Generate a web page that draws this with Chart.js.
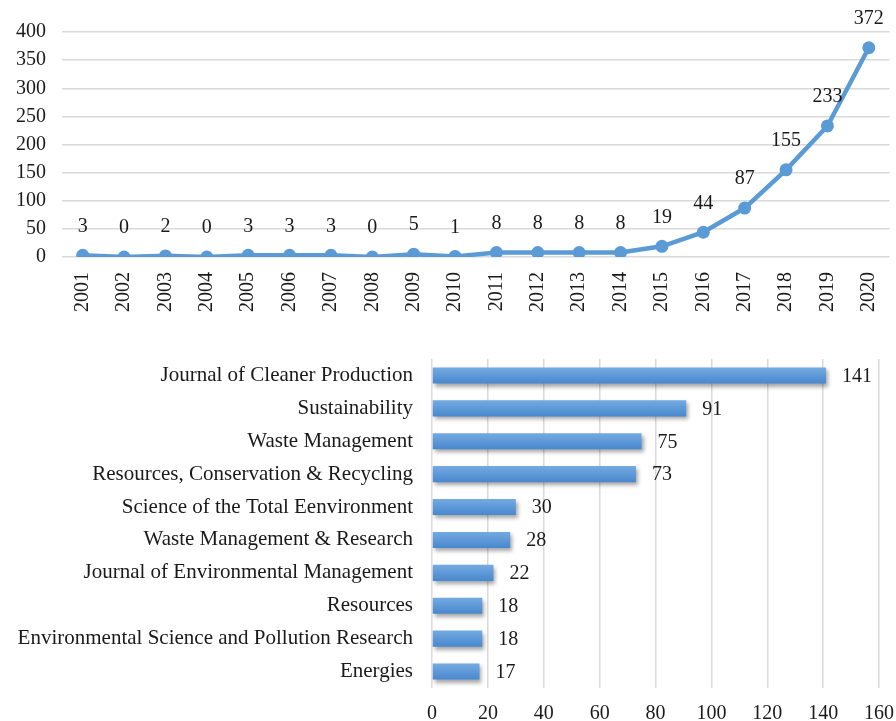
<!DOCTYPE html>
<html>
<head>
<meta charset="utf-8">
<script src="https://cdn.jsdelivr.net/npm/chart.js@4.4.0/dist/chart.umd.min.js"></script>
<style>
  html, body { margin: 0; padding: 0; background: #fff; }
  #wrap { position: relative; width: 896px; height: 721px; }
  .box { position: absolute; left: 0; width: 896px; }
  #top { top: 0; height: 320px; }
  #bottom { top: 340px; height: 381px; }
</style>
</head>
<body>
<div id="wrap">
  <div class="box" id="top"><canvas id="lineChart"></canvas></div>
  <div class="box" id="bottom"><canvas id="barChart"></canvas></div>
</div>
<script>
const years = ["2001", "2002", "2003", "2004", "2005", "2006", "2007", "2008", "2009", "2010",
               "2011", "2012", "2013", "2014", "2015", "2016", "2017", "2018", "2019", "2020"];
const papers = [3, 0, 2, 0, 3, 3, 3, 0, 5, 1, 8, 8, 8, 8, 19, 44, 87, 155, 233, 372];

const journals = [
    "Journal of Cleaner Production",
    "Sustainability",
    "Waste Management",
    "Resources, Conservation & Recycling",
    "Science of the Total Eenvironment",
    "Waste Management & Research",
    "Journal of Environmental Management",
    "Resources",
    "Environmental Science and Pollution Research",
    "Energies"
];
const journalCounts = [141, 91, 75, 73, 30, 28, 22, 18, 18, 17];

const FONT = '"Liberation Serif", "Times New Roman", serif';
const textColor = '#1a1a1a';
const gridColor = '#d9d9d9';
const blue = '#5b9bd5';

Chart.defaults.font.family = FONT;
Chart.defaults.font.size = 20;
Chart.defaults.color = textColor;

// numbers next to the points / bars
const valueLabels = {
    id: 'valueLabels',
    afterDatasetsDraw(chart, args, opts) {
        const ctx = chart.ctx;
        const meta = chart.getDatasetMeta(0);
        const values = chart.data.datasets[0].data;
        ctx.save();
        ctx.font = '20px ' + FONT;
        ctx.fillStyle = textColor;
        ctx.textBaseline = 'middle';
        meta.data.forEach((el, i) => {
            if (opts.horizontal) {
                ctx.textAlign = 'left';
                ctx.fillText(values[i], el.x + opts.gap, el.y + 1);
            } else {
                ctx.textAlign = 'center';
                ctx.fillText(values[i], el.x, el.y - opts.gap);
            }
        });
        ctx.restore();
    }
};

// soft drop shadow under the bars
const barShadow = {
    id: 'barShadow',
    beforeDatasetsDraw(chart) {
        const ctx = chart.ctx;
        ctx.save();
        ctx.shadowColor = 'rgba(0,0,0,0.35)';
        ctx.shadowBlur = 4;
        ctx.shadowOffsetX = 2;
        ctx.shadowOffsetY = 3;
    },
    afterDatasetsDraw(chart) {
        chart.ctx.restore();
    }
};

new Chart(document.getElementById('lineChart'), {
    type: 'line',
    data: {
        labels: years,
        datasets: [{
            data: papers,
            borderColor: blue,
            backgroundColor: blue,
            borderWidth: 4.5,
            pointRadius: 6.5,
            pointBorderWidth: 0,
            tension: 0
        }]
    },
    options: {
        responsive: true,
        maintainAspectRatio: false,
        animation: false,
        layout: { padding: { top: 32, right: 2, left: 0, bottom: 0 } },
        plugins: {
            legend: { display: false },
            tooltip: { enabled: false },
            valueLabels: { gap: 29 }
        },
        scales: {
            x: {
                offset: true,
                grid: { display: false },
                border: { display: false },
                ticks: { minRotation: 90, maxRotation: 90, autoSkip: false, padding: 7 },
                afterFit: (s) => { s.height = 63; s.paddingLeft = 0; s.paddingRight = 0; }
            },
            y: {
                min: 0,
                max: 400,
                grid: { color: gridColor, lineWidth: 1.5, drawTicks: false },
                border: { display: false },
                ticks: { stepSize: 50, padding: 16 },
                afterFit: (s) => { s.width = 62; }
            }
        }
    },
    plugins: [valueLabels]
});

new Chart(document.getElementById('barChart'), {
    type: 'bar',
    data: {
        labels: journals,
        datasets: [{
            data: journalCounts,
            backgroundColor: (c) => {
                const chart = c.chart;
                const y = chart.scales.y;
                if (!y || c.dataIndex === undefined) return blue;
                const mid = y.getPixelForValue(c.dataIndex);
                if (!isFinite(mid)) return blue;
                const g = chart.ctx.createLinearGradient(0, mid - 8, 0, mid + 8);
                g.addColorStop(0, '#74aae1');
                g.addColorStop(1, '#4888ce');
                return g;
            },
            borderWidth: 0,
            barPercentage: 0.49,
            categoryPercentage: 1
        }]
    },
    options: {
        indexAxis: 'y',
        responsive: true,
        maintainAspectRatio: false,
        animation: false,
        layout: { padding: { top: 19, right: 17, left: 0, bottom: 0 } },
        plugins: {
            legend: { display: false },
            tooltip: { enabled: false },
            valueLabels: { horizontal: true, gap: 16 }
        },
        scales: {
            x: {
                min: 0,
                max: 160,
                grid: { color: gridColor, lineWidth: 1.5, drawTicks: false },
                border: { display: false },
                ticks: { stepSize: 20, padding: 14 },
                afterFit: (s) => { s.height = 33; s.paddingLeft = 0; s.paddingRight = 0; }
            },
            y: {
                grid: { display: false, drawTicks: false },
                border: { display: false },
                ticks: { padding: 19, autoSkip: false, font: { size: 21 } },
                afterFit: (s) => { s.width = 432; s.paddingTop = 0; s.paddingBottom = 0; }
            }
        }
    },
    plugins: [barShadow, valueLabels]
});
</script>
</body>
</html>
